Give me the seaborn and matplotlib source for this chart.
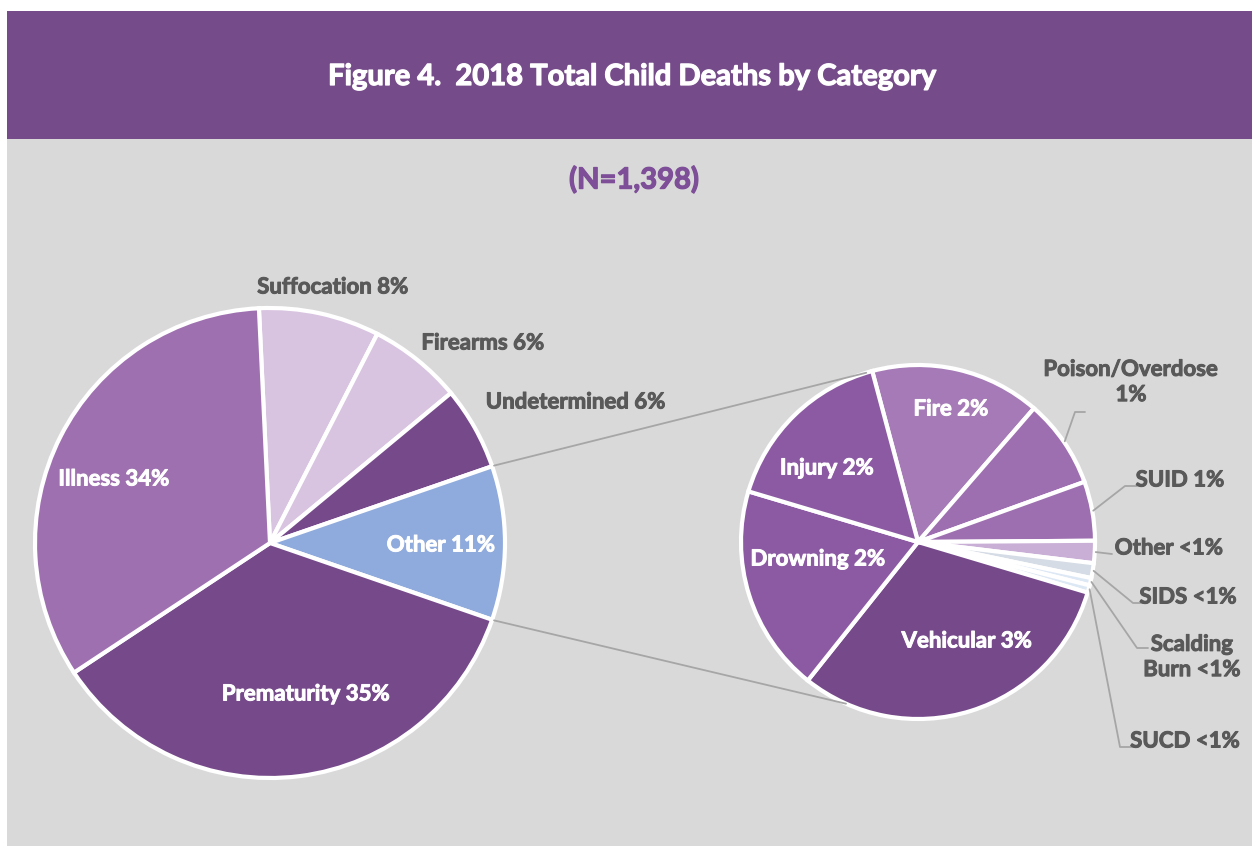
import numpy as np
import matplotlib
matplotlib.use("Agg")
import matplotlib.pyplot as plt
import matplotlib.patheffects as pe
import seaborn as sns
from matplotlib.patches import Rectangle

# ---------------- data ----------------
main_labels = ["Suffocation 8%", "Firearms 6%", "Undetermined 6%", "Other 11%",
               "Prematurity 35%", "Illness 34%"]
main_values = [116, 90, 80, 148, 495, 469]
main_colors = ["#D8C3E0", "#D8C3E0", "#764A8A", "#8FAADC", "#764A8A", "#9E70B0"]

sub_labels = ["Fire 2%", "Poison/Overdose\n1%", "SUID 1%", "Other <1%", "SIDS <1%",
              "Scalding\nBurn <1%", "SUCD <1%", "Vehicular 3%", "Drowning 2%", "Injury 2%"]
sub_values = [23, 12, 8, 3, 2, 1, 1, 46, 28, 24]
sub_colors = ["#A57AB6", "#9D6EB0", "#9D6EB0", "#C9AED6", "#D6DCE5",
              "#DDE8F5", "#DDE8F5", "#764A8A", "#8C5AA3", "#8C5AA3"]

title = "Figure 4.  2018 Total Child Deaths by Category"
subtitle = "(N=1,398)"

# ---------------- style ----------------
sns.set_style("white")
plt.rcParams["font.family"] = ["Lato", "DejaVu Sans"]

W, H = 1252, 846
fig = plt.figure(figsize=(W / 100, H / 100), dpi=100)
fig.patch.set_facecolor("white")
ax = fig.add_axes([0, 0, 1, 1])
ax.set_xlim(0, W)
ax.set_ylim(0, H)
ax.axis("off")


def Y(y):
    return H - y


def bold_fx(col, w=0.7):
    return [pe.withStroke(linewidth=w, foreground=col)]


# background panels
ax.add_patch(Rectangle((7, 0), W - 7, Y(139), facecolor="#D9D9D9", edgecolor="none", zorder=0))
ax.add_patch(Rectangle((7, Y(139)), W - 7, 128, facecolor="#764B8A", edgecolor="none", zorder=0))

ax.text(632, Y(77), title, color="white", fontsize=21, fontweight="bold",
        ha="center", va="center", zorder=5, path_effects=bold_fx("white", 0.9))
ax.text(634, Y(180), subtitle, color="#7E4F98", fontsize=21, fontweight="bold",
        ha="center", va="center", zorder=5, path_effects=bold_fx("#7E4F98", 0.9))

# ---------------- main pie ----------------
c1 = (270, Y(543))
r1 = 235
tot1 = sum(main_values)
other_idx = 3
start1 = 360 * (sum(main_values[:other_idx]) + main_values[other_idx] / 2) / tot1
wp = dict(edgecolor="white", linewidth=3.0)
ax.pie(main_values, colors=main_colors, startangle=start1, counterclock=False,
       center=c1, radius=r1, wedgeprops=wp, frame=True)

# ---------------- secondary pie ----------------
c2 = (918, Y(542))
r2 = 177
ax.pie(sub_values, colors=sub_colors, startangle=105, counterclock=False,
       center=c2, radius=r2, wedgeprops=wp, frame=True)

ax.set_xlim(0, W)
ax.set_ylim(0, H)
ax.set_aspect("equal")
ax.axis("off")

# connector lines between the pies
a_top = np.deg2rad(360 * main_values[other_idx] / 2 / tot1)
a_bot = -a_top
p_top = (c1[0] + (r1 + 2) * np.cos(a_top), c1[1] + (r1 + 2) * np.sin(a_top))
p_bot = (c1[0] + (r1 + 2) * np.cos(a_bot), c1[1] + (r1 + 2) * np.sin(a_bot))
q_top = (c2[0] + r2 * np.cos(np.deg2rad(107)), c2[1] + r2 * np.sin(np.deg2rad(107)))
q_bot = (c2[0] + r2 * np.cos(np.deg2rad(246)), c2[1] + r2 * np.sin(np.deg2rad(246)))
line_c = "#A6A6A6"
ax.plot([p_top[0], q_top[0]], [p_top[1], q_top[1]], color=line_c, lw=1.3, zorder=1)
ax.plot([p_bot[0], q_bot[0]], [p_bot[1], q_bot[1]], color=line_c, lw=1.3, zorder=1)

# ---------------- labels ----------------
lab_fs = 16
dark = "#595959"
main_pos = [(333, 287, dark), (483, 343, dark), (576, 402, dark), (441, 545, "white"),
            (306, 694, "white"), (114, 479, "white")]
for lab, (x, y, col) in zip(main_labels, main_pos):
    ax.text(x, Y(y), lab, color=col, fontsize=lab_fs, fontweight="bold",
            ha="center", va="center", zorder=6, path_effects=bold_fx(col))

sub_pos = [(951, 409, "white"), (1131, 382, dark), (1180, 480, dark), (1169, 548, dark),
           (1188, 597, dark), (1192, 657, dark), (1185, 741, dark),
           (967, 641, "white"), (818, 559, "white"), (827, 468, "white")]
for lab, (x, y, col) in zip(sub_labels, sub_pos):
    ax.text(x, Y(y), lab, color=col, fontsize=lab_fs, fontweight="bold",
            ha="center", va="center", zorder=6, linespacing=1.25,
            path_effects=bold_fx(col))

# leader lines for the small slices of the secondary pie
tot2 = sum(sub_values)
cum = np.cumsum([0] + sub_values)
mid_angles = [105 - 360 * (cum[i] + sub_values[i] / 2) / tot2 for i in range(len(sub_values))]
leaders = {1: [(1075, 412), (1085, 412)],
           2: [(1125, 486), (1137, 486)],
           3: [(1112, 554)],
           4: [(1133, 603), (1145, 603)],
           5: [(1137, 648), (1148, 648)],
           6: [(1120, 747), (1133, 747)]}
for i, pts in leaders.items():
    a = np.deg2rad(mid_angles[i])
    sx = c2[0] + (r2 + 1) * np.cos(a)
    sy = c2[1] + (r2 + 1) * np.sin(a)
    xs = [sx] + [p[0] for p in pts]
    ys = [sy] + [Y(p[1]) for p in pts]
    ax.plot(xs, ys, color=line_c, lw=1.3, zorder=1)

fig.savefig("out.png", dpi=100, facecolor=fig.get_facecolor())
